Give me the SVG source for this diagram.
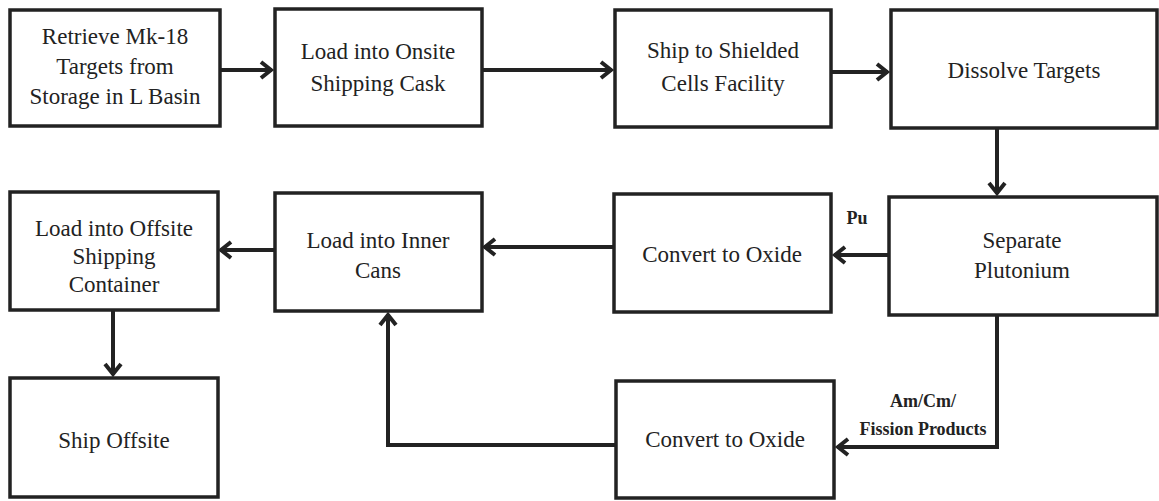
<svg xmlns="http://www.w3.org/2000/svg" width="1159" height="501" viewBox="0 0 1159 501">
<style>
.box{fill:#fff;stroke:#222;stroke-width:3.5}
.t{font-family:'Liberation Serif','DejaVu Serif',serif;font-size:23px;fill:#222;text-anchor:middle}
.lbl{font-family:'Liberation Serif','DejaVu Serif',serif;font-size:18px;font-weight:bold;fill:#222;text-anchor:middle}
.c{fill:none;stroke:#222;stroke-width:4;stroke-linejoin:miter}
</style>
<defs>
<marker id="ah" markerUnits="userSpaceOnUse" markerWidth="24" markerHeight="24" viewBox="-14 -12 16 24" refX="0" refY="0" orient="auto">
<path d="M-11,-8 L-1,0 L-11,8" fill="none" stroke="#222" stroke-width="4"/>
</marker>
</defs>
<rect width="1159" height="501" fill="#fff"/>
<g id="connectors">
<path class="c" d="M221,70 H272" marker-end="url(#ah)"/>
<path class="c" d="M483,70 H612" marker-end="url(#ah)"/>
<path class="c" d="M832,72 H888" marker-end="url(#ah)"/>
<path class="c" d="M997,128 V194" marker-end="url(#ah)"/>
<path class="c" d="M889,255 H834" marker-end="url(#ah)"/>
<path class="c" d="M614,247 H484" marker-end="url(#ah)"/>
<path class="c" d="M275,250 H220" marker-end="url(#ah)"/>
<path class="c" d="M113,310 V375" marker-end="url(#ah)"/>
<path class="c" d="M997,315 V447 H837" marker-end="url(#ah)"/>
<path class="c" d="M615,445 H388 V314" marker-end="url(#ah)"/>
</g>
<g id="n1"><rect class="box" x="10" y="10" width="210" height="116"/>
<text class="t" x="115" y="44">Retrieve Mk-18</text><text class="t" x="115" y="74">Targets from</text><text class="t" x="115" y="104">Storage in L Basin</text></g>
<g id="n2"><rect class="box" x="275" y="9" width="207" height="117"/>
<text class="t" x="378" y="59">Load into Onsite</text><text class="t" x="378" y="91">Shipping Cask</text></g>
<g id="n3"><rect class="box" x="615" y="10" width="216" height="117"/>
<text class="t" x="723" y="58">Ship to Shielded</text><text class="t" x="723" y="91">Cells Facility</text></g>
<g id="n4"><rect class="box" x="891" y="10" width="266" height="118"/>
<text class="t" x="1024" y="78">Dissolve Targets</text></g>
<g id="n5"><rect class="box" x="10" y="192" width="208" height="118"/>
<text class="t" x="114" y="236">Load into Offsite</text><text class="t" x="114" y="264">Shipping</text><text class="t" x="114" y="292">Container</text></g>
<g id="n6"><rect class="box" x="275" y="193" width="207" height="118"/>
<text class="t" x="378" y="248">Load into Inner</text><text class="t" x="378" y="278">Cans</text></g>
<g id="n7"><rect class="box" x="614" y="194" width="217" height="118"/>
<text class="t" x="722" y="262">Convert to Oxide</text></g>
<g id="n8"><rect class="box" x="889" y="197" width="268" height="118"/>
<text class="t" x="1022" y="248">Separate</text><text class="t" x="1022" y="278">Plutonium</text></g>
<g id="n9"><rect class="box" x="10" y="378" width="208" height="119"/>
<text class="t" x="114" y="448">Ship Offsite</text></g>
<g id="n10"><rect class="box" x="616" y="381" width="218" height="117"/>
<text class="t" x="725" y="447">Convert to Oxide</text></g>
<g id="labels">
<text class="lbl" x="857" y="224">Pu</text>
<text class="lbl" x="923" y="407">Am/Cm/</text>
<text class="lbl" x="923" y="435">Fission Products</text>
</g>
</svg>
